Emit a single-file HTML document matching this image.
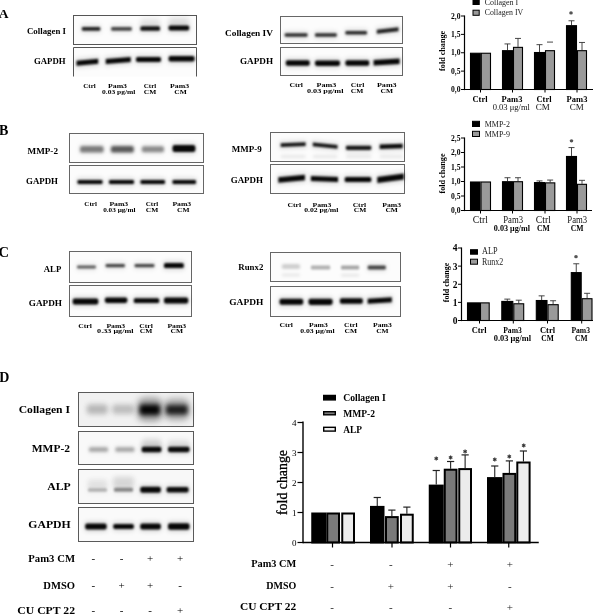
<!DOCTYPE html><html><head><meta charset="utf-8"><style>html,body{margin:0;padding:0;background:#fff;width:600px;height:615px;overflow:hidden}svg{display:block;will-change:transform}</style></head><body>
<svg width="600" height="615" viewBox="0 0 600 615" font-family="'Liberation Serif', serif">
<defs>
<filter id="b3" x="-50%" y="-200%" width="200%" height="500%"><feGaussianBlur stdDeviation="0.3"/></filter>
<filter id="b4" x="-50%" y="-200%" width="200%" height="500%"><feGaussianBlur stdDeviation="0.4"/></filter>
<filter id="b5" x="-50%" y="-200%" width="200%" height="500%"><feGaussianBlur stdDeviation="0.5"/></filter>
<filter id="b6" x="-50%" y="-200%" width="200%" height="500%"><feGaussianBlur stdDeviation="0.6"/></filter>
<filter id="b7" x="-50%" y="-200%" width="200%" height="500%"><feGaussianBlur stdDeviation="0.7"/></filter>
<filter id="b8" x="-50%" y="-200%" width="200%" height="500%"><feGaussianBlur stdDeviation="0.8"/></filter>
<filter id="b9" x="-50%" y="-200%" width="200%" height="500%"><feGaussianBlur stdDeviation="0.9"/></filter>
<filter id="b10" x="-50%" y="-200%" width="200%" height="500%"><feGaussianBlur stdDeviation="1.0"/></filter>
<filter id="b11" x="-50%" y="-200%" width="200%" height="500%"><feGaussianBlur stdDeviation="1.1"/></filter>
<filter id="b12" x="-50%" y="-200%" width="200%" height="500%"><feGaussianBlur stdDeviation="1.2"/></filter>
<filter id="b13" x="-50%" y="-200%" width="200%" height="500%"><feGaussianBlur stdDeviation="1.3"/></filter>
<filter id="b14" x="-50%" y="-200%" width="200%" height="500%"><feGaussianBlur stdDeviation="1.4"/></filter>
<filter id="b15" x="-50%" y="-200%" width="200%" height="500%"><feGaussianBlur stdDeviation="1.5"/></filter>
<filter id="b16" x="-50%" y="-200%" width="200%" height="500%"><feGaussianBlur stdDeviation="1.6"/></filter>
<filter id="b17" x="-50%" y="-200%" width="200%" height="500%"><feGaussianBlur stdDeviation="1.7"/></filter>
<filter id="b18" x="-50%" y="-200%" width="200%" height="500%"><feGaussianBlur stdDeviation="1.8"/></filter>
<filter id="b19" x="-50%" y="-200%" width="200%" height="500%"><feGaussianBlur stdDeviation="1.9"/></filter>
<filter id="b20" x="-50%" y="-200%" width="200%" height="500%"><feGaussianBlur stdDeviation="2.0"/></filter>
<filter id="b21" x="-50%" y="-200%" width="200%" height="500%"><feGaussianBlur stdDeviation="2.1"/></filter>
<filter id="b22" x="-50%" y="-200%" width="200%" height="500%"><feGaussianBlur stdDeviation="2.2"/></filter>
<filter id="b23" x="-50%" y="-200%" width="200%" height="500%"><feGaussianBlur stdDeviation="2.3"/></filter>
<filter id="b24" x="-50%" y="-200%" width="200%" height="500%"><feGaussianBlur stdDeviation="2.4"/></filter>
<filter id="b25" x="-50%" y="-200%" width="200%" height="500%"><feGaussianBlur stdDeviation="2.5"/></filter>
<filter id="b26" x="-50%" y="-200%" width="200%" height="500%"><feGaussianBlur stdDeviation="2.6"/></filter>
<filter id="b27" x="-50%" y="-200%" width="200%" height="500%"><feGaussianBlur stdDeviation="2.7"/></filter>
<filter id="b28" x="-50%" y="-200%" width="200%" height="500%"><feGaussianBlur stdDeviation="2.8"/></filter>
<filter id="b29" x="-50%" y="-200%" width="200%" height="500%"><feGaussianBlur stdDeviation="2.9"/></filter>
<filter id="b30" x="-50%" y="-200%" width="200%" height="500%"><feGaussianBlur stdDeviation="3.0"/></filter>
<filter id="b31" x="-50%" y="-200%" width="200%" height="500%"><feGaussianBlur stdDeviation="3.1"/></filter>
<filter id="b32" x="-50%" y="-200%" width="200%" height="500%"><feGaussianBlur stdDeviation="3.2"/></filter>
<filter id="b33" x="-50%" y="-200%" width="200%" height="500%"><feGaussianBlur stdDeviation="3.3"/></filter>
<filter id="b34" x="-50%" y="-200%" width="200%" height="500%"><feGaussianBlur stdDeviation="3.4"/></filter>
<filter id="b35" x="-50%" y="-200%" width="200%" height="500%"><feGaussianBlur stdDeviation="3.5"/></filter>
<filter id="b36" x="-50%" y="-200%" width="200%" height="500%"><feGaussianBlur stdDeviation="3.6"/></filter>
<filter id="b37" x="-50%" y="-200%" width="200%" height="500%"><feGaussianBlur stdDeviation="3.7"/></filter>
<filter id="b38" x="-50%" y="-200%" width="200%" height="500%"><feGaussianBlur stdDeviation="3.8"/></filter>
<filter id="b39" x="-50%" y="-200%" width="200%" height="500%"><feGaussianBlur stdDeviation="3.9"/></filter>
<filter id="b40" x="-50%" y="-200%" width="200%" height="500%"><feGaussianBlur stdDeviation="4.0"/></filter>
</defs>
<rect width="600" height="615" fill="#fff"/>
<text x="-1.20" y="17.50" font-size="13.5" font-weight="bold" text-anchor="start" fill="#000" >A</text>
<text x="-1.00" y="134.80" font-size="14" font-weight="bold" text-anchor="start" fill="#000" >B</text>
<text x="-1.50" y="256.50" font-size="14.5" font-weight="bold" text-anchor="start" fill="#000" >C</text>
<text x="-0.80" y="381.70" font-size="14" font-weight="bold" text-anchor="start" fill="#000" >D</text>
<rect x="73.5" y="15.5" width="123.0" height="29.0" fill="#fcfcfc" stroke="#555" stroke-width="1.0"/>
<text x="66.00" y="34.00" font-size="9" font-weight="bold" text-anchor="end" textLength="39.00" lengthAdjust="spacingAndGlyphs" fill="#000" >Collagen I</text>
<rect x="140.40" y="18.00" width="19.60" height="8.00" rx="2.67" fill="#000" fill-opacity="0.08" filter="url(#b25)"/>
<rect x="168.60" y="17.00" width="20.60" height="8.00" rx="2.67" fill="#000" fill-opacity="0.10" filter="url(#b25)"/>
<rect x="80.90" y="24.45" width="20.40" height="8.80" rx="2.93" fill="#000" fill-opacity="0.10" filter="url(#b20)"/>
<rect x="81.90" y="26.95" width="18.40" height="3.80" rx="1.27" fill="#000" fill-opacity="0.85" filter="url(#b10)"/>
<rect x="110.20" y="24.55" width="22.55" height="8.60" rx="2.87" fill="#000" fill-opacity="0.08" filter="url(#b20)"/>
<rect x="111.20" y="27.05" width="20.55" height="3.60" rx="1.20" fill="#000" fill-opacity="0.70" filter="url(#b10)"/>
<rect x="139.40" y="23.85" width="21.60" height="9.50" rx="3.17" fill="#000" fill-opacity="0.11" filter="url(#b20)"/>
<rect x="140.40" y="26.35" width="19.60" height="4.50" rx="1.50" fill="#000" fill-opacity="0.92" filter="url(#b10)"/>
<rect x="167.60" y="23.00" width="22.60" height="10.00" rx="3.33" fill="#000" fill-opacity="0.12" filter="url(#b20)"/>
<rect x="168.60" y="25.50" width="20.60" height="5.00" rx="1.67" fill="#000" fill-opacity="0.97" filter="url(#b10)"/>
<rect x="73.5" y="47.5" width="123.0" height="29.0" fill="#fcfcfc"/>
<path d="M73.5,76.5 V47.5 H196.5 V76.5" fill="none" stroke="#555" stroke-width="1.0"/>
<text x="65.60" y="63.75" font-size="8.5" font-weight="bold" text-anchor="end" textLength="31.60" lengthAdjust="spacingAndGlyphs" fill="#000" >GAPDH</text>
<polygon points="75.50,58.20 99.20,56.20 99.20,66.20 75.50,68.20" fill="#000" fill-opacity="0.12" filter="url(#b20)"/>
<polygon points="76.50,60.70 98.20,58.70 98.20,63.70 76.50,65.70" fill="#000" fill-opacity="0.97" filter="url(#b10)"/>
<polygon points="104.75,56.40 131.70,54.40 131.70,64.40 104.75,66.40" fill="#000" fill-opacity="0.12" filter="url(#b20)"/>
<polygon points="105.75,58.90 130.70,56.90 130.70,61.90 105.75,63.90" fill="#000" fill-opacity="0.97" filter="url(#b10)"/>
<rect x="135.00" y="54.40" width="27.00" height="10.00" rx="3.33" fill="#000" fill-opacity="0.12" filter="url(#b20)"/>
<rect x="136.00" y="56.90" width="25.00" height="5.00" rx="1.67" fill="#000" fill-opacity="0.97" filter="url(#b10)"/>
<rect x="167.60" y="53.50" width="28.00" height="10.50" rx="3.50" fill="#000" fill-opacity="0.12" filter="url(#b20)"/>
<rect x="168.60" y="56.00" width="26.00" height="5.50" rx="1.83" fill="#000" fill-opacity="0.97" filter="url(#b10)"/>
<text x="89.50" y="87.50" font-size="7" font-weight="bold" text-anchor="middle" textLength="12.50" lengthAdjust="spacingAndGlyphs" fill="#000" >Ctrl</text>
<text x="117.50" y="87.50" font-size="7" font-weight="bold" text-anchor="middle" textLength="19.00" lengthAdjust="spacingAndGlyphs" fill="#000" >Pam3</text>
<text x="150.00" y="87.50" font-size="7" font-weight="bold" text-anchor="middle" textLength="12.50" lengthAdjust="spacingAndGlyphs" fill="#000" >Ctrl</text>
<text x="179.60" y="87.50" font-size="7" font-weight="bold" text-anchor="middle" textLength="19.00" lengthAdjust="spacingAndGlyphs" fill="#000" >Pam3</text>
<text x="118.70" y="94.00" font-size="7" font-weight="bold" text-anchor="middle" textLength="33.40" lengthAdjust="spacingAndGlyphs" fill="#000" >0.03 pg/ml</text>
<text x="150.00" y="94.00" font-size="7" font-weight="bold" text-anchor="middle" textLength="12.50" lengthAdjust="spacingAndGlyphs" fill="#000" >CM</text>
<text x="180.50" y="94.00" font-size="7" font-weight="bold" text-anchor="middle" textLength="12.50" lengthAdjust="spacingAndGlyphs" fill="#000" >CM</text>
<rect x="280.5" y="16.5" width="122.0" height="27.0" fill="#fcfcfc" stroke="#666" stroke-width="1.0"/>
<text x="273.00" y="36.00" font-size="9" font-weight="bold" text-anchor="end" textLength="48.00" lengthAdjust="spacingAndGlyphs" fill="#000" >Collagen IV</text>
<rect x="283.75" y="30.65" width="24.75" height="8.50" rx="2.83" fill="#000" fill-opacity="0.10" filter="url(#b20)"/>
<rect x="284.75" y="33.15" width="22.75" height="3.50" rx="1.17" fill="#000" fill-opacity="0.80" filter="url(#b10)"/>
<rect x="314.00" y="30.65" width="23.75" height="8.50" rx="2.83" fill="#000" fill-opacity="0.10" filter="url(#b20)"/>
<rect x="315.00" y="33.15" width="21.75" height="3.50" rx="1.17" fill="#000" fill-opacity="0.80" filter="url(#b10)"/>
<rect x="344.40" y="28.50" width="23.60" height="8.50" rx="2.83" fill="#000" fill-opacity="0.10" filter="url(#b20)"/>
<rect x="345.40" y="31.00" width="21.60" height="3.50" rx="1.17" fill="#000" fill-opacity="0.82" filter="url(#b10)"/>
<polygon points="375.80,27.25 399.50,24.75 399.50,33.75 375.80,36.25" fill="#000" fill-opacity="0.10" filter="url(#b20)"/>
<polygon points="376.80,29.75 398.50,27.25 398.50,31.25 376.80,33.75" fill="#000" fill-opacity="0.85" filter="url(#b10)"/>
<rect x="280.5" y="47.5" width="122.0" height="28.0" fill="#fcfcfc" stroke="#666" stroke-width="1.0"/>
<text x="273.00" y="63.50" font-size="8.5" font-weight="bold" text-anchor="end" textLength="33.00" lengthAdjust="spacingAndGlyphs" fill="#000" >GAPDH</text>
<rect x="284.80" y="57.75" width="25.90" height="10.50" rx="3.50" fill="#000" fill-opacity="0.12" filter="url(#b20)"/>
<rect x="285.80" y="60.25" width="23.90" height="5.50" rx="1.83" fill="#000" fill-opacity="0.97" filter="url(#b10)"/>
<rect x="314.00" y="57.95" width="27.00" height="10.50" rx="3.50" fill="#000" fill-opacity="0.12" filter="url(#b20)"/>
<rect x="315.00" y="60.45" width="25.00" height="5.50" rx="1.83" fill="#000" fill-opacity="0.97" filter="url(#b10)"/>
<rect x="344.40" y="57.75" width="25.85" height="10.50" rx="3.50" fill="#000" fill-opacity="0.12" filter="url(#b20)"/>
<rect x="345.40" y="60.25" width="23.85" height="5.50" rx="1.83" fill="#000" fill-opacity="0.97" filter="url(#b10)"/>
<polygon points="372.60,57.50 400.60,56.00 400.60,66.50 372.60,68.00" fill="#000" fill-opacity="0.12" filter="url(#b20)"/>
<polygon points="373.60,60.00 399.60,58.50 399.60,64.00 373.60,65.50" fill="#000" fill-opacity="0.97" filter="url(#b10)"/>
<text x="296.20" y="87.00" font-size="6.5" font-weight="bold" text-anchor="middle" textLength="13.50" lengthAdjust="spacingAndGlyphs" fill="#000" >Ctrl</text>
<text x="326.40" y="87.00" font-size="6.5" font-weight="bold" text-anchor="middle" textLength="19.75" lengthAdjust="spacingAndGlyphs" fill="#000" >Pam3</text>
<text x="357.60" y="87.00" font-size="6.5" font-weight="bold" text-anchor="middle" textLength="13.50" lengthAdjust="spacingAndGlyphs" fill="#000" >Ctrl</text>
<text x="386.80" y="87.00" font-size="6.5" font-weight="bold" text-anchor="middle" textLength="19.75" lengthAdjust="spacingAndGlyphs" fill="#000" >Pam3</text>
<text x="325.20" y="92.80" font-size="6.5" font-weight="bold" text-anchor="middle" textLength="36.50" lengthAdjust="spacingAndGlyphs" fill="#000" >0.03 pg/ml</text>
<text x="357.00" y="92.80" font-size="6.5" font-weight="bold" text-anchor="middle" textLength="12.50" lengthAdjust="spacingAndGlyphs" fill="#000" >CM</text>
<text x="386.80" y="92.80" font-size="6.5" font-weight="bold" text-anchor="middle" textLength="12.50" lengthAdjust="spacingAndGlyphs" fill="#000" >CM</text>
<rect x="69.5" y="133.5" width="134.0" height="29.0" fill="#fcfcfc" stroke="#666" stroke-width="1.0"/>
<text x="58.00" y="154.00" font-size="8.5" font-weight="bold" text-anchor="end" textLength="30.50" lengthAdjust="spacingAndGlyphs" fill="#000" >MMP-2</text>
<rect x="79.00" y="143.55" width="25.60" height="11.50" rx="3.83" fill="#000" fill-opacity="0.06" filter="url(#b20)"/>
<rect x="80.00" y="146.05" width="23.60" height="6.50" rx="2.17" fill="#000" fill-opacity="0.48" filter="url(#b16)"/>
<rect x="109.90" y="143.55" width="24.90" height="11.50" rx="3.83" fill="#000" fill-opacity="0.07" filter="url(#b20)"/>
<rect x="110.90" y="146.05" width="22.90" height="6.50" rx="2.17" fill="#000" fill-opacity="0.62" filter="url(#b16)"/>
<rect x="140.80" y="143.80" width="24.20" height="11.00" rx="3.67" fill="#000" fill-opacity="0.05" filter="url(#b20)"/>
<rect x="141.80" y="146.30" width="22.20" height="6.00" rx="2.00" fill="#000" fill-opacity="0.42" filter="url(#b16)"/>
<rect x="171.50" y="142.60" width="24.90" height="12.00" rx="4.00" fill="#000" fill-opacity="0.12" filter="url(#b20)"/>
<rect x="172.50" y="145.10" width="22.90" height="7.00" rx="2.33" fill="#000" fill-opacity="0.97" filter="url(#b13)"/>
<rect x="69.5" y="165.5" width="134.0" height="28.0" fill="#fcfcfc" stroke="#666" stroke-width="1.0"/>
<text x="58.00" y="184.00" font-size="8.5" font-weight="bold" text-anchor="end" textLength="32.00" lengthAdjust="spacingAndGlyphs" fill="#000" >GAPDH</text>
<rect x="76.50" y="177.50" width="27.00" height="9.00" rx="3.00" fill="#000" fill-opacity="0.12" filter="url(#b20)"/>
<rect x="77.50" y="180.00" width="25.00" height="4.00" rx="1.33" fill="#000" fill-opacity="0.97" filter="url(#b8)"/>
<rect x="108.00" y="177.50" width="27.00" height="9.00" rx="3.00" fill="#000" fill-opacity="0.12" filter="url(#b20)"/>
<rect x="109.00" y="180.00" width="25.00" height="4.00" rx="1.33" fill="#000" fill-opacity="0.97" filter="url(#b8)"/>
<rect x="139.50" y="177.50" width="26.50" height="9.00" rx="3.00" fill="#000" fill-opacity="0.12" filter="url(#b20)"/>
<rect x="140.50" y="180.00" width="24.50" height="4.00" rx="1.33" fill="#000" fill-opacity="0.97" filter="url(#b8)"/>
<rect x="171.50" y="177.50" width="25.50" height="9.00" rx="3.00" fill="#000" fill-opacity="0.12" filter="url(#b20)"/>
<rect x="172.50" y="180.00" width="23.50" height="4.00" rx="1.33" fill="#000" fill-opacity="0.97" filter="url(#b8)"/>
<text x="90.60" y="205.80" font-size="7" font-weight="bold" text-anchor="middle" textLength="12.50" lengthAdjust="spacingAndGlyphs" fill="#000" >Ctrl</text>
<text x="118.75" y="205.80" font-size="7" font-weight="bold" text-anchor="middle" textLength="18.75" lengthAdjust="spacingAndGlyphs" fill="#000" >Pam3</text>
<text x="152.00" y="205.80" font-size="7" font-weight="bold" text-anchor="middle" textLength="12.50" lengthAdjust="spacingAndGlyphs" fill="#000" >Ctrl</text>
<text x="181.80" y="205.80" font-size="7" font-weight="bold" text-anchor="middle" textLength="18.75" lengthAdjust="spacingAndGlyphs" fill="#000" >Pam3</text>
<text x="119.30" y="211.70" font-size="7" font-weight="bold" text-anchor="middle" textLength="32.30" lengthAdjust="spacingAndGlyphs" fill="#000" >0.03 μg/ml</text>
<text x="152.00" y="211.70" font-size="7" font-weight="bold" text-anchor="middle" textLength="12.50" lengthAdjust="spacingAndGlyphs" fill="#000" >CM</text>
<text x="183.30" y="211.70" font-size="7" font-weight="bold" text-anchor="middle" textLength="12.50" lengthAdjust="spacingAndGlyphs" fill="#000" >CM</text>
<rect x="270.5" y="132.5" width="134.0" height="29.0" fill="#fcfcfc" stroke="#666" stroke-width="1.0"/>
<text x="261.70" y="151.50" font-size="8.5" font-weight="bold" text-anchor="end" textLength="30.00" lengthAdjust="spacingAndGlyphs" fill="#000" >MMP-9</text>
<polygon points="279.70,140.70 306.60,139.70 306.60,148.50 279.70,149.50" fill="#000" fill-opacity="0.11" filter="url(#b20)"/>
<polygon points="280.70,143.20 305.60,142.20 305.60,146.00 280.70,147.00" fill="#000" fill-opacity="0.90" filter="url(#b10)"/>
<polygon points="311.80,140.00 338.50,142.40 338.50,151.20 311.80,148.80" fill="#000" fill-opacity="0.11" filter="url(#b20)"/>
<polygon points="312.80,142.50 337.50,144.90 337.50,148.70 312.80,146.30" fill="#000" fill-opacity="0.90" filter="url(#b10)"/>
<rect x="344.90" y="143.20" width="27.40" height="9.20" rx="3.07" fill="#000" fill-opacity="0.11" filter="url(#b20)"/>
<rect x="345.90" y="145.70" width="25.40" height="4.20" rx="1.40" fill="#000" fill-opacity="0.90" filter="url(#b10)"/>
<polygon points="378.70,142.05 403.70,141.25 403.70,150.75 378.70,151.55" fill="#000" fill-opacity="0.11" filter="url(#b20)"/>
<polygon points="379.70,144.55 402.70,143.75 402.70,148.25 379.70,149.05" fill="#000" fill-opacity="0.95" filter="url(#b10)"/>
<rect x="280.70" y="154.75" width="24.90" height="3.50" rx="1.17" fill="#000" fill-opacity="0.07" filter="url(#b15)"/>
<rect x="312.80" y="154.75" width="24.70" height="3.50" rx="1.17" fill="#000" fill-opacity="0.07" filter="url(#b15)"/>
<rect x="345.90" y="154.75" width="25.40" height="3.50" rx="1.17" fill="#000" fill-opacity="0.07" filter="url(#b15)"/>
<rect x="379.70" y="154.75" width="23.00" height="3.50" rx="1.17" fill="#000" fill-opacity="0.07" filter="url(#b15)"/>
<rect x="270.5" y="164.5" width="134.0" height="29.0" fill="#fcfcfc" stroke="#666" stroke-width="1.0"/>
<text x="263.00" y="182.50" font-size="8.5" font-weight="bold" text-anchor="end" textLength="32.30" lengthAdjust="spacingAndGlyphs" fill="#000" >GAPDH</text>
<polygon points="277.30,174.80 305.90,172.30 305.90,182.80 277.30,185.30" fill="#000" fill-opacity="0.12" filter="url(#b20)"/>
<polygon points="278.30,177.30 304.90,174.80 304.90,180.30 278.30,182.80" fill="#000" fill-opacity="0.97" filter="url(#b10)"/>
<polygon points="309.90,173.40 339.00,174.40 339.00,184.40 309.90,183.40" fill="#000" fill-opacity="0.12" filter="url(#b20)"/>
<polygon points="310.90,175.90 338.00,176.90 338.00,181.90 310.90,180.90" fill="#000" fill-opacity="0.97" filter="url(#b10)"/>
<rect x="343.70" y="174.60" width="28.60" height="10.00" rx="3.33" fill="#000" fill-opacity="0.12" filter="url(#b20)"/>
<rect x="344.70" y="177.10" width="26.60" height="5.00" rx="1.67" fill="#000" fill-opacity="0.97" filter="url(#b10)"/>
<polygon points="376.30,174.45 404.90,170.95 404.90,181.95 376.30,185.45" fill="#000" fill-opacity="0.12" filter="url(#b20)"/>
<polygon points="377.30,176.95 403.90,173.45 403.90,179.45 377.30,182.95" fill="#000" fill-opacity="0.97" filter="url(#b10)"/>
<text x="294.30" y="206.50" font-size="7" font-weight="bold" text-anchor="middle" textLength="13.50" lengthAdjust="spacingAndGlyphs" fill="#000" >Ctrl</text>
<text x="321.90" y="206.50" font-size="7" font-weight="bold" text-anchor="middle" textLength="18.75" lengthAdjust="spacingAndGlyphs" fill="#000" >Pam3</text>
<text x="359.40" y="206.50" font-size="7" font-weight="bold" text-anchor="middle" textLength="13.50" lengthAdjust="spacingAndGlyphs" fill="#000" >Ctrl</text>
<text x="391.70" y="206.50" font-size="7" font-weight="bold" text-anchor="middle" textLength="18.75" lengthAdjust="spacingAndGlyphs" fill="#000" >Pam3</text>
<text x="321.30" y="212.00" font-size="7" font-weight="bold" text-anchor="middle" textLength="34.30" lengthAdjust="spacingAndGlyphs" fill="#000" >0.02 pg/ml</text>
<text x="360.00" y="212.00" font-size="7" font-weight="bold" text-anchor="middle" textLength="12.50" lengthAdjust="spacingAndGlyphs" fill="#000" >CM</text>
<text x="391.70" y="212.00" font-size="7" font-weight="bold" text-anchor="middle" textLength="12.50" lengthAdjust="spacingAndGlyphs" fill="#000" >CM</text>
<rect x="69.5" y="251.5" width="122.0" height="31.0" fill="#fcfcfc" stroke="#666" stroke-width="1.0"/>
<text x="61.25" y="271.50" font-size="8.5" font-weight="bold" text-anchor="end" textLength="17.50" lengthAdjust="spacingAndGlyphs" fill="#000" >ALP</text>
<rect x="76.00" y="262.90" width="20.90" height="8.20" rx="2.73" fill="#000" fill-opacity="0.07" filter="url(#b20)"/>
<rect x="77.00" y="265.40" width="18.90" height="3.20" rx="1.07" fill="#000" fill-opacity="0.60" filter="url(#b10)"/>
<rect x="104.60" y="261.50" width="21.30" height="8.20" rx="2.73" fill="#000" fill-opacity="0.08" filter="url(#b20)"/>
<rect x="105.60" y="264.00" width="19.30" height="3.20" rx="1.07" fill="#000" fill-opacity="0.70" filter="url(#b10)"/>
<rect x="133.60" y="261.50" width="21.80" height="8.20" rx="2.73" fill="#000" fill-opacity="0.08" filter="url(#b20)"/>
<rect x="134.60" y="264.00" width="19.80" height="3.20" rx="1.07" fill="#000" fill-opacity="0.70" filter="url(#b10)"/>
<rect x="163.00" y="260.60" width="21.80" height="10.00" rx="3.33" fill="#000" fill-opacity="0.12" filter="url(#b20)"/>
<rect x="164.00" y="263.10" width="19.80" height="5.00" rx="1.67" fill="#000" fill-opacity="0.97" filter="url(#b10)"/>
<rect x="69.5" y="285.5" width="122.0" height="31.0" fill="#fcfcfc" stroke="#666" stroke-width="1.0"/>
<text x="62.00" y="305.50" font-size="8.5" font-weight="bold" text-anchor="end" textLength="33.25" lengthAdjust="spacingAndGlyphs" fill="#000" >GAPDH</text>
<rect x="71.70" y="296.10" width="27.60" height="11.00" rx="3.67" fill="#000" fill-opacity="0.12" filter="url(#b20)"/>
<rect x="72.70" y="298.60" width="25.60" height="6.00" rx="2.00" fill="#000" fill-opacity="0.97" filter="url(#b10)"/>
<rect x="103.90" y="294.95" width="24.40" height="10.50" rx="3.50" fill="#000" fill-opacity="0.12" filter="url(#b20)"/>
<rect x="104.90" y="297.45" width="22.40" height="5.50" rx="1.83" fill="#000" fill-opacity="0.97" filter="url(#b10)"/>
<rect x="132.80" y="295.70" width="27.40" height="9.80" rx="3.27" fill="#000" fill-opacity="0.12" filter="url(#b20)"/>
<rect x="133.80" y="298.20" width="25.40" height="4.80" rx="1.60" fill="#000" fill-opacity="0.97" filter="url(#b10)"/>
<rect x="163.00" y="295.10" width="26.20" height="11.00" rx="3.67" fill="#000" fill-opacity="0.12" filter="url(#b20)"/>
<rect x="164.00" y="297.60" width="24.20" height="6.00" rx="2.00" fill="#000" fill-opacity="0.97" filter="url(#b10)"/>
<text x="85.10" y="327.60" font-size="7" font-weight="bold" text-anchor="middle" textLength="13.60" lengthAdjust="spacingAndGlyphs" fill="#000" >Ctrl</text>
<text x="115.80" y="327.60" font-size="7" font-weight="bold" text-anchor="middle" textLength="18.75" lengthAdjust="spacingAndGlyphs" fill="#000" >Pam3</text>
<text x="146.00" y="327.60" font-size="7" font-weight="bold" text-anchor="middle" textLength="13.60" lengthAdjust="spacingAndGlyphs" fill="#000" >Ctrl</text>
<text x="176.80" y="327.60" font-size="7" font-weight="bold" text-anchor="middle" textLength="18.75" lengthAdjust="spacingAndGlyphs" fill="#000" >Pam3</text>
<text x="115.30" y="333.30" font-size="7" font-weight="bold" text-anchor="middle" textLength="36.40" lengthAdjust="spacingAndGlyphs" fill="#000" >0.33 μg/ml</text>
<text x="146.00" y="333.30" font-size="7" font-weight="bold" text-anchor="middle" textLength="12.50" lengthAdjust="spacingAndGlyphs" fill="#000" >CM</text>
<text x="176.80" y="333.30" font-size="7" font-weight="bold" text-anchor="middle" textLength="12.50" lengthAdjust="spacingAndGlyphs" fill="#000" >CM</text>
<rect x="270.5" y="252.5" width="130.0" height="29.0" fill="#fcfcfc" stroke="#666" stroke-width="1.0"/>
<text x="263.30" y="270.00" font-size="8" font-weight="bold" text-anchor="end" textLength="25.00" lengthAdjust="spacingAndGlyphs" fill="#000" >Runx2</text>
<rect x="281.90" y="264.25" width="18.10" height="4.50" rx="1.50" fill="#000" fill-opacity="0.20" filter="url(#b15)"/>
<rect x="310.90" y="265.60" width="19.30" height="3.80" rx="1.27" fill="#000" fill-opacity="0.30" filter="url(#b13)"/>
<rect x="341.00" y="265.60" width="18.20" height="3.80" rx="1.27" fill="#000" fill-opacity="0.35" filter="url(#b13)"/>
<rect x="366.70" y="263.00" width="20.10" height="9.00" rx="3.00" fill="#000" fill-opacity="0.08" filter="url(#b20)"/>
<rect x="367.70" y="265.50" width="18.10" height="4.00" rx="1.33" fill="#000" fill-opacity="0.70" filter="url(#b12)"/>
<rect x="281.90" y="273.50" width="18.10" height="3.00" rx="1.00" fill="#000" fill-opacity="0.08" filter="url(#b15)"/>
<rect x="341.00" y="273.70" width="18.20" height="3.00" rx="1.00" fill="#000" fill-opacity="0.08" filter="url(#b15)"/>
<rect x="270.5" y="286.5" width="130.0" height="30.0" fill="#fcfcfc" stroke="#666" stroke-width="1.0"/>
<text x="263.30" y="304.50" font-size="8.5" font-weight="bold" text-anchor="end" textLength="34.00" lengthAdjust="spacingAndGlyphs" fill="#000" >GAPDH</text>
<rect x="278.50" y="296.30" width="25.70" height="11.00" rx="3.67" fill="#000" fill-opacity="0.12" filter="url(#b20)"/>
<rect x="279.50" y="298.80" width="23.70" height="6.00" rx="2.00" fill="#000" fill-opacity="0.97" filter="url(#b10)"/>
<rect x="307.50" y="296.20" width="26.10" height="11.20" rx="3.73" fill="#000" fill-opacity="0.12" filter="url(#b20)"/>
<rect x="308.50" y="298.70" width="24.10" height="6.20" rx="2.07" fill="#000" fill-opacity="0.97" filter="url(#b10)"/>
<rect x="338.90" y="295.75" width="24.90" height="10.50" rx="3.50" fill="#000" fill-opacity="0.12" filter="url(#b20)"/>
<rect x="339.90" y="298.25" width="22.90" height="5.50" rx="1.83" fill="#000" fill-opacity="0.97" filter="url(#b10)"/>
<polygon points="366.70,296.35 392.80,294.85 392.80,304.65 366.70,306.15" fill="#000" fill-opacity="0.12" filter="url(#b20)"/>
<polygon points="367.70,298.85 391.80,297.35 391.80,302.15 367.70,303.65" fill="#000" fill-opacity="0.97" filter="url(#b10)"/>
<text x="286.20" y="327.00" font-size="7" font-weight="bold" text-anchor="middle" textLength="13.50" lengthAdjust="spacingAndGlyphs" fill="#000" >Ctrl</text>
<text x="318.40" y="327.00" font-size="7" font-weight="bold" text-anchor="middle" textLength="18.75" lengthAdjust="spacingAndGlyphs" fill="#000" >Pam3</text>
<text x="350.80" y="327.00" font-size="7" font-weight="bold" text-anchor="middle" textLength="13.50" lengthAdjust="spacingAndGlyphs" fill="#000" >Ctrl</text>
<text x="382.40" y="327.00" font-size="7" font-weight="bold" text-anchor="middle" textLength="18.75" lengthAdjust="spacingAndGlyphs" fill="#000" >Pam3</text>
<text x="317.40" y="332.80" font-size="7" font-weight="bold" text-anchor="middle" textLength="34.40" lengthAdjust="spacingAndGlyphs" fill="#000" >0.03 μg/ml</text>
<text x="350.80" y="332.80" font-size="7" font-weight="bold" text-anchor="middle" textLength="12.50" lengthAdjust="spacingAndGlyphs" fill="#000" >CM</text>
<text x="382.40" y="332.80" font-size="7" font-weight="bold" text-anchor="middle" textLength="12.50" lengthAdjust="spacingAndGlyphs" fill="#000" >CM</text>
<rect x="470.50" y="53.25" width="9.80" height="36.25" fill="#000" stroke="#000" stroke-width="1.1" />
<rect x="481.30" y="53.25" width="9.20" height="36.25" fill="#9a9a9a" stroke="#000" stroke-width="1.1" />
<line x1="507.50" y1="50.18" x2="507.50" y2="43.93" stroke="#333" stroke-width="0.9"/>
<line x1="504.50" y1="43.93" x2="510.50" y2="43.93" stroke="#333" stroke-width="0.9"/>
<rect x="502.50" y="50.68" width="10.00" height="38.82" fill="#000" stroke="#000" stroke-width="1.1" />
<line x1="518.00" y1="46.87" x2="518.00" y2="38.42" stroke="#333" stroke-width="0.9"/>
<line x1="515.00" y1="38.42" x2="521.00" y2="38.42" stroke="#333" stroke-width="0.9"/>
<rect x="513.50" y="47.37" width="9.00" height="42.13" fill="#9a9a9a" stroke="#000" stroke-width="1.1" />
<line x1="539.50" y1="52.02" x2="539.50" y2="44.66" stroke="#333" stroke-width="0.9"/>
<line x1="536.50" y1="44.66" x2="542.50" y2="44.66" stroke="#333" stroke-width="0.9"/>
<rect x="534.50" y="52.52" width="10.00" height="36.98" fill="#000" stroke="#000" stroke-width="1.1" />
<line x1="547.00" y1="42.09" x2="553.00" y2="42.09" stroke="#333" stroke-width="0.9"/>
<rect x="545.50" y="50.68" width="9.00" height="38.82" fill="#9a9a9a" stroke="#000" stroke-width="1.1" />
<line x1="571.50" y1="25.19" x2="571.50" y2="20.78" stroke="#333" stroke-width="0.9"/>
<line x1="568.50" y1="20.78" x2="574.50" y2="20.78" stroke="#333" stroke-width="0.9"/>
<rect x="566.50" y="25.69" width="10.00" height="63.81" fill="#000" stroke="#000" stroke-width="1.1" />
<line x1="582.00" y1="50.18" x2="582.00" y2="42.46" stroke="#333" stroke-width="0.9"/>
<line x1="579.00" y1="42.46" x2="585.00" y2="42.46" stroke="#333" stroke-width="0.9"/>
<rect x="577.50" y="50.68" width="9.00" height="38.82" fill="#9a9a9a" stroke="#000" stroke-width="1.1" />
<line x1="464.50" y1="15.50" x2="464.50" y2="90.10" stroke="#000" stroke-width="1.2"/>
<line x1="463.90" y1="89.50" x2="593.00" y2="89.50" stroke="#000" stroke-width="1.2"/>
<line x1="461.00" y1="89.50" x2="464.50" y2="89.50" stroke="#000" stroke-width="1"/>
<text x="460.50" y="92.20" font-size="7.5" font-weight="bold" text-anchor="end" textLength="9.50" lengthAdjust="spacingAndGlyphs" fill="#000" >0,0</text>
<line x1="461.00" y1="71.12" x2="464.50" y2="71.12" stroke="#000" stroke-width="1"/>
<text x="460.50" y="73.83" font-size="7.5" font-weight="bold" text-anchor="end" textLength="9.50" lengthAdjust="spacingAndGlyphs" fill="#000" >0,5</text>
<line x1="461.00" y1="52.75" x2="464.50" y2="52.75" stroke="#000" stroke-width="1"/>
<text x="460.50" y="55.45" font-size="7.5" font-weight="bold" text-anchor="end" textLength="9.50" lengthAdjust="spacingAndGlyphs" fill="#000" >1,0</text>
<line x1="461.00" y1="34.38" x2="464.50" y2="34.38" stroke="#000" stroke-width="1"/>
<text x="460.50" y="37.08" font-size="7.5" font-weight="bold" text-anchor="end" textLength="9.50" lengthAdjust="spacingAndGlyphs" fill="#000" >1,5</text>
<line x1="461.00" y1="16.00" x2="464.50" y2="16.00" stroke="#000" stroke-width="1"/>
<text x="460.50" y="18.70" font-size="7.5" font-weight="bold" text-anchor="end" textLength="9.50" lengthAdjust="spacingAndGlyphs" fill="#000" >2,0</text>
<line x1="480.50" y1="89.50" x2="480.50" y2="92.50" stroke="#000" stroke-width="1"/>
<line x1="512.50" y1="89.50" x2="512.50" y2="92.50" stroke="#000" stroke-width="1"/>
<line x1="545.00" y1="89.50" x2="545.00" y2="92.50" stroke="#000" stroke-width="1"/>
<line x1="577.00" y1="89.50" x2="577.00" y2="92.50" stroke="#000" stroke-width="1"/>
<ellipse cx="571" cy="12.9" rx="1.8" ry="1.6" fill="#555" filter="url(#b5)"/>
<rect x="473.00" y="-0.50" width="6.20" height="5.00" fill="#000" stroke="#000" stroke-width="1" />
<text x="484.70" y="5.00" font-size="8.5" font-weight="normal" text-anchor="start" textLength="33.60" lengthAdjust="spacingAndGlyphs" fill="#222" >Collagen I</text>
<rect x="473.00" y="10.20" width="6.20" height="5.10" fill="#9a9a9a" stroke="#000" stroke-width="1" />
<text x="484.70" y="15.00" font-size="8.5" font-weight="normal" text-anchor="start" textLength="38.60" lengthAdjust="spacingAndGlyphs" fill="#222" >Collagen IV</text>
<text x="0" y="0" font-size="8" font-weight="bold" text-anchor="middle" textLength="40" lengthAdjust="spacingAndGlyphs" transform="translate(444.8,50.9) rotate(-90)">fold change</text>
<text x="480.00" y="101.50" font-size="8.5" font-weight="bold" text-anchor="middle" fill="#000" >Ctrl</text>
<text x="512.00" y="101.50" font-size="8.5" font-weight="bold" text-anchor="middle" fill="#000" >Pam3</text>
<text x="544.00" y="101.50" font-size="8.5" font-weight="bold" text-anchor="middle" fill="#000" >Ctrl</text>
<text x="577.00" y="101.50" font-size="8.5" font-weight="bold" text-anchor="middle" fill="#000" >Pam3</text>
<text x="511.30" y="110.00" font-size="8.5" font-weight="normal" text-anchor="middle" textLength="37.30" lengthAdjust="spacingAndGlyphs" fill="#111" >0.03 μg/ml</text>
<text x="542.80" y="110.00" font-size="8.5" font-weight="normal" text-anchor="middle" textLength="14.00" lengthAdjust="spacingAndGlyphs" fill="#111" >CM</text>
<text x="576.70" y="110.00" font-size="8.5" font-weight="normal" text-anchor="middle" textLength="14.00" lengthAdjust="spacingAndGlyphs" fill="#111" >CM</text>
<rect x="470.50" y="182.00" width="9.50" height="28.50" fill="#000" stroke="#000" stroke-width="1.1" />
<rect x="481.00" y="182.00" width="9.50" height="28.50" fill="#9a9a9a" stroke="#000" stroke-width="1.1" />
<line x1="507.50" y1="181.21" x2="507.50" y2="177.73" stroke="#333" stroke-width="0.9"/>
<line x1="504.50" y1="177.73" x2="510.50" y2="177.73" stroke="#333" stroke-width="0.9"/>
<rect x="502.50" y="181.71" width="10.00" height="28.79" fill="#000" stroke="#000" stroke-width="1.1" />
<line x1="518.00" y1="181.21" x2="518.00" y2="177.73" stroke="#333" stroke-width="0.9"/>
<line x1="515.00" y1="177.73" x2="521.00" y2="177.73" stroke="#333" stroke-width="0.9"/>
<rect x="513.50" y="181.71" width="9.00" height="28.79" fill="#9a9a9a" stroke="#000" stroke-width="1.1" />
<line x1="539.50" y1="182.08" x2="539.50" y2="180.92" stroke="#333" stroke-width="0.9"/>
<line x1="536.50" y1="180.92" x2="542.50" y2="180.92" stroke="#333" stroke-width="0.9"/>
<rect x="534.50" y="182.58" width="10.00" height="27.92" fill="#000" stroke="#000" stroke-width="1.1" />
<line x1="550.15" y1="182.37" x2="550.15" y2="180.05" stroke="#333" stroke-width="0.9"/>
<line x1="547.15" y1="180.05" x2="553.15" y2="180.05" stroke="#333" stroke-width="0.9"/>
<rect x="545.50" y="182.87" width="9.30" height="27.63" fill="#9a9a9a" stroke="#000" stroke-width="1.1" />
<line x1="571.50" y1="155.98" x2="571.50" y2="147.57" stroke="#333" stroke-width="0.9"/>
<line x1="568.50" y1="147.57" x2="574.50" y2="147.57" stroke="#333" stroke-width="0.9"/>
<rect x="566.50" y="156.48" width="10.00" height="54.02" fill="#000" stroke="#000" stroke-width="1.1" />
<line x1="582.00" y1="183.82" x2="582.00" y2="180.34" stroke="#333" stroke-width="0.9"/>
<line x1="579.00" y1="180.34" x2="585.00" y2="180.34" stroke="#333" stroke-width="0.9"/>
<rect x="577.50" y="184.32" width="9.00" height="26.18" fill="#9a9a9a" stroke="#000" stroke-width="1.1" />
<line x1="464.50" y1="137.50" x2="464.50" y2="211.10" stroke="#000" stroke-width="1.2"/>
<line x1="463.90" y1="210.50" x2="592.00" y2="210.50" stroke="#000" stroke-width="1.2"/>
<line x1="461.00" y1="210.50" x2="464.50" y2="210.50" stroke="#000" stroke-width="1"/>
<text x="460.50" y="213.20" font-size="7.5" font-weight="bold" text-anchor="end" textLength="9.50" lengthAdjust="spacingAndGlyphs" fill="#000" >0,0</text>
<line x1="461.00" y1="196.00" x2="464.50" y2="196.00" stroke="#000" stroke-width="1"/>
<text x="460.50" y="198.70" font-size="7.5" font-weight="bold" text-anchor="end" textLength="9.50" lengthAdjust="spacingAndGlyphs" fill="#000" >0,5</text>
<line x1="461.00" y1="181.50" x2="464.50" y2="181.50" stroke="#000" stroke-width="1"/>
<text x="460.50" y="184.20" font-size="7.5" font-weight="bold" text-anchor="end" textLength="9.50" lengthAdjust="spacingAndGlyphs" fill="#000" >1,0</text>
<line x1="461.00" y1="167.00" x2="464.50" y2="167.00" stroke="#000" stroke-width="1"/>
<text x="460.50" y="169.70" font-size="7.5" font-weight="bold" text-anchor="end" textLength="9.50" lengthAdjust="spacingAndGlyphs" fill="#000" >1,5</text>
<line x1="461.00" y1="152.50" x2="464.50" y2="152.50" stroke="#000" stroke-width="1"/>
<text x="460.50" y="155.20" font-size="7.5" font-weight="bold" text-anchor="end" textLength="9.50" lengthAdjust="spacingAndGlyphs" fill="#000" >2,0</text>
<line x1="461.00" y1="138.00" x2="464.50" y2="138.00" stroke="#000" stroke-width="1"/>
<text x="460.50" y="140.70" font-size="7.5" font-weight="bold" text-anchor="end" textLength="9.50" lengthAdjust="spacingAndGlyphs" fill="#000" >2,5</text>
<line x1="480.50" y1="210.50" x2="480.50" y2="213.50" stroke="#000" stroke-width="1"/>
<line x1="512.50" y1="210.50" x2="512.50" y2="213.50" stroke="#000" stroke-width="1"/>
<line x1="545.00" y1="210.50" x2="545.00" y2="213.50" stroke="#000" stroke-width="1"/>
<line x1="577.00" y1="210.50" x2="577.00" y2="213.50" stroke="#000" stroke-width="1"/>
<ellipse cx="571.5" cy="140.8" rx="1.8" ry="1.6" fill="#555" filter="url(#b5)"/>
<rect x="472.50" y="121.30" width="7.00" height="5.20" fill="#000" stroke="#000" stroke-width="1" />
<text x="484.70" y="127.00" font-size="8.5" font-weight="normal" text-anchor="start" textLength="25.30" lengthAdjust="spacingAndGlyphs" fill="#222" >MMP-2</text>
<rect x="472.50" y="131.30" width="7.00" height="5.20" fill="#9a9a9a" stroke="#000" stroke-width="1" />
<text x="484.70" y="136.70" font-size="8.5" font-weight="normal" text-anchor="start" textLength="25.30" lengthAdjust="spacingAndGlyphs" fill="#222" >MMP-9</text>
<text x="0" y="0" font-size="8" font-weight="bold" text-anchor="middle" textLength="40" lengthAdjust="spacingAndGlyphs" transform="translate(445.3,173.5) rotate(-90)">fold change</text>
<text x="480.40" y="222.50" font-size="9.5" font-weight="normal" text-anchor="middle" textLength="15.20" lengthAdjust="spacingAndGlyphs" fill="#111" >Ctrl</text>
<text x="513.10" y="222.50" font-size="9.5" font-weight="normal" text-anchor="middle" textLength="19.80" lengthAdjust="spacingAndGlyphs" fill="#111" >Pam3</text>
<text x="543.40" y="222.50" font-size="9.5" font-weight="normal" text-anchor="middle" textLength="15.20" lengthAdjust="spacingAndGlyphs" fill="#111" >Ctrl</text>
<text x="577.20" y="222.50" font-size="9.5" font-weight="normal" text-anchor="middle" textLength="19.80" lengthAdjust="spacingAndGlyphs" fill="#111" >Pam3</text>
<text x="511.90" y="230.70" font-size="7.5" font-weight="bold" text-anchor="middle" textLength="36.20" lengthAdjust="spacingAndGlyphs" fill="#000" >0.03 μg/ml</text>
<text x="543.40" y="230.70" font-size="7.5" font-weight="bold" text-anchor="middle" textLength="12.80" lengthAdjust="spacingAndGlyphs" fill="#000" >CM</text>
<text x="577.20" y="230.70" font-size="7.5" font-weight="bold" text-anchor="middle" textLength="12.80" lengthAdjust="spacingAndGlyphs" fill="#000" >CM</text>
<rect x="467.50" y="302.88" width="12.00" height="17.62" fill="#000" stroke="#000" stroke-width="1.1" />
<rect x="480.50" y="302.88" width="8.70" height="17.62" fill="#9a9a9a" stroke="#000" stroke-width="1.1" />
<line x1="507.30" y1="300.93" x2="507.30" y2="299.11" stroke="#333" stroke-width="0.9"/>
<line x1="504.30" y1="299.11" x2="510.30" y2="299.11" stroke="#333" stroke-width="0.9"/>
<rect x="501.80" y="301.43" width="11.00" height="19.07" fill="#000" stroke="#000" stroke-width="1.1" />
<line x1="518.75" y1="303.28" x2="518.75" y2="300.20" stroke="#333" stroke-width="0.9"/>
<line x1="515.75" y1="300.20" x2="521.75" y2="300.20" stroke="#333" stroke-width="0.9"/>
<rect x="513.80" y="303.78" width="9.90" height="16.72" fill="#9a9a9a" stroke="#000" stroke-width="1.1" />
<line x1="541.65" y1="300.02" x2="541.65" y2="295.85" stroke="#333" stroke-width="0.9"/>
<line x1="538.65" y1="295.85" x2="544.65" y2="295.85" stroke="#333" stroke-width="0.9"/>
<rect x="536.30" y="300.52" width="10.70" height="19.98" fill="#000" stroke="#000" stroke-width="1.1" />
<line x1="553.10" y1="304.19" x2="553.10" y2="300.74" stroke="#333" stroke-width="0.9"/>
<line x1="550.10" y1="300.74" x2="556.10" y2="300.74" stroke="#333" stroke-width="0.9"/>
<rect x="548.00" y="304.69" width="10.20" height="15.81" fill="#9a9a9a" stroke="#000" stroke-width="1.1" />
<line x1="576.25" y1="272.11" x2="576.25" y2="263.77" stroke="#333" stroke-width="0.9"/>
<line x1="573.25" y1="263.77" x2="579.25" y2="263.77" stroke="#333" stroke-width="0.9"/>
<rect x="571.30" y="272.61" width="9.90" height="47.89" fill="#000" stroke="#000" stroke-width="1.1" />
<line x1="587.10" y1="298.21" x2="587.10" y2="293.31" stroke="#333" stroke-width="0.9"/>
<line x1="584.10" y1="293.31" x2="590.10" y2="293.31" stroke="#333" stroke-width="0.9"/>
<rect x="582.20" y="298.71" width="9.80" height="21.79" fill="#9a9a9a" stroke="#000" stroke-width="1.1" />
<line x1="461.50" y1="247.50" x2="461.50" y2="321.10" stroke="#000" stroke-width="1.2"/>
<line x1="460.90" y1="320.50" x2="593.00" y2="320.50" stroke="#000" stroke-width="1.2"/>
<line x1="458.00" y1="320.50" x2="461.50" y2="320.50" stroke="#000" stroke-width="1"/>
<text x="457.50" y="323.92" font-size="9.5" font-weight="bold" text-anchor="end" fill="#000" >0</text>
<line x1="458.00" y1="302.38" x2="461.50" y2="302.38" stroke="#000" stroke-width="1"/>
<text x="457.50" y="305.80" font-size="9.5" font-weight="bold" text-anchor="end" fill="#000" >1</text>
<line x1="458.00" y1="284.25" x2="461.50" y2="284.25" stroke="#000" stroke-width="1"/>
<text x="457.50" y="287.67" font-size="9.5" font-weight="bold" text-anchor="end" fill="#000" >2</text>
<line x1="458.00" y1="266.12" x2="461.50" y2="266.12" stroke="#000" stroke-width="1"/>
<text x="457.50" y="269.55" font-size="9.5" font-weight="bold" text-anchor="end" fill="#000" >3</text>
<line x1="458.00" y1="248.00" x2="461.50" y2="248.00" stroke="#000" stroke-width="1"/>
<text x="457.50" y="251.42" font-size="9.5" font-weight="bold" text-anchor="end" fill="#000" >4</text>
<line x1="479.50" y1="320.50" x2="479.50" y2="323.50" stroke="#000" stroke-width="1"/>
<line x1="513.30" y1="320.50" x2="513.30" y2="323.50" stroke="#000" stroke-width="1"/>
<line x1="547.50" y1="320.50" x2="547.50" y2="323.50" stroke="#000" stroke-width="1"/>
<line x1="581.70" y1="320.50" x2="581.70" y2="323.50" stroke="#000" stroke-width="1"/>
<ellipse cx="576" cy="256.7" rx="1.8" ry="1.6" fill="#555" filter="url(#b5)"/>
<rect x="470.50" y="249.70" width="7.00" height="4.50" fill="#000" stroke="#000" stroke-width="1" />
<text x="482.00" y="254.20" font-size="9.5" font-weight="normal" text-anchor="start" textLength="15.50" lengthAdjust="spacingAndGlyphs" fill="#222" >ALP</text>
<rect x="470.50" y="259.20" width="7.00" height="5.00" fill="#9a9a9a" stroke="#000" stroke-width="1" />
<text x="482.00" y="264.70" font-size="9.5" font-weight="normal" text-anchor="start" textLength="21.30" lengthAdjust="spacingAndGlyphs" fill="#222" >Runx2</text>
<text x="0" y="0" font-size="8.5" font-weight="bold" text-anchor="middle" textLength="39.5" lengthAdjust="spacingAndGlyphs" transform="translate(449,282.5) rotate(-90)">fold change</text>
<text x="479.20" y="332.50" font-size="8.5" font-weight="bold" text-anchor="middle" textLength="15.00" lengthAdjust="spacingAndGlyphs" fill="#000" >Ctrl</text>
<text x="512.50" y="332.50" font-size="8.5" font-weight="bold" text-anchor="middle" textLength="18.60" lengthAdjust="spacingAndGlyphs" fill="#000" >Pam3</text>
<text x="547.50" y="332.50" font-size="8.5" font-weight="bold" text-anchor="middle" textLength="15.00" lengthAdjust="spacingAndGlyphs" fill="#000" >Ctrl</text>
<text x="580.70" y="332.50" font-size="8.5" font-weight="bold" text-anchor="middle" textLength="18.60" lengthAdjust="spacingAndGlyphs" fill="#000" >Pam3</text>
<text x="512.50" y="341.00" font-size="8" font-weight="bold" text-anchor="middle" textLength="37.40" lengthAdjust="spacingAndGlyphs" fill="#000" >0.03 μg/ml</text>
<text x="547.50" y="341.00" font-size="8" font-weight="bold" text-anchor="middle" textLength="12.50" lengthAdjust="spacingAndGlyphs" fill="#000" >CM</text>
<text x="581.30" y="341.00" font-size="8" font-weight="bold" text-anchor="middle" textLength="12.50" lengthAdjust="spacingAndGlyphs" fill="#000" >CM</text>
<text x="70.00" y="412.50" font-size="11" font-weight="bold" text-anchor="end" textLength="51.30" lengthAdjust="spacingAndGlyphs" fill="#000" >Collagen I</text>
<text x="70.00" y="452.30" font-size="11" font-weight="bold" text-anchor="end" textLength="38.30" lengthAdjust="spacingAndGlyphs" fill="#000" >MMP-2</text>
<text x="70.70" y="489.80" font-size="11" font-weight="bold" text-anchor="end" textLength="23.40" lengthAdjust="spacingAndGlyphs" fill="#000" >ALP</text>
<text x="70.70" y="528.00" font-size="11" font-weight="bold" text-anchor="end" textLength="42.40" lengthAdjust="spacingAndGlyphs" fill="#000" >GAPDH</text>
<rect x="78.5" y="392.5" width="115.0" height="34.0" fill="#f1f1f1" stroke="#5a5a5a" stroke-width="1.0"/>
<rect x="86.00" y="402.30" width="22.60" height="14.00" rx="4.67" fill="#000" fill-opacity="0.03" filter="url(#b20)"/>
<rect x="87.00" y="404.80" width="20.60" height="9.00" rx="3.00" fill="#000" fill-opacity="0.22" filter="url(#b25)"/>
<rect x="111.30" y="402.30" width="23.70" height="14.00" rx="4.67" fill="#000" fill-opacity="0.02" filter="url(#b20)"/>
<rect x="112.30" y="404.80" width="21.70" height="9.00" rx="3.00" fill="#000" fill-opacity="0.20" filter="url(#b25)"/>
<rect x="137.00" y="397.50" width="26.00" height="24.00" rx="8.00" fill="#000" fill-opacity="0.35" filter="url(#b30)"/>
<rect x="164.00" y="398.50" width="26.00" height="22.00" rx="7.33" fill="#000" fill-opacity="0.30" filter="url(#b30)"/>
<rect x="138.80" y="402.30" width="22.00" height="15.00" rx="5.00" fill="#000" fill-opacity="0.12" filter="url(#b20)"/>
<rect x="139.80" y="404.80" width="20.00" height="10.00" rx="3.33" fill="#000" fill-opacity="0.97" filter="url(#b20)"/>
<rect x="165.10" y="402.80" width="23.40" height="14.00" rx="4.67" fill="#000" fill-opacity="0.10" filter="url(#b20)"/>
<rect x="166.10" y="405.30" width="21.40" height="9.00" rx="3.00" fill="#000" fill-opacity="0.80" filter="url(#b20)"/>
<rect x="78.5" y="431.5" width="115.0" height="33.0" fill="#f9f9f9" stroke="#5a5a5a" stroke-width="1.0"/>
<rect x="88.00" y="444.65" width="21.00" height="9.50" rx="3.17" fill="#000" fill-opacity="0.04" filter="url(#b20)"/>
<rect x="89.00" y="447.15" width="19.00" height="4.50" rx="1.50" fill="#000" fill-opacity="0.30" filter="url(#b16)"/>
<rect x="114.40" y="444.65" width="21.00" height="9.50" rx="3.17" fill="#000" fill-opacity="0.04" filter="url(#b20)"/>
<rect x="115.40" y="447.15" width="19.00" height="4.50" rx="1.50" fill="#000" fill-opacity="0.30" filter="url(#b16)"/>
<rect x="140.70" y="436.50" width="21.70" height="17.00" rx="5.67" fill="#000" fill-opacity="0.01" filter="url(#b20)"/>
<rect x="141.70" y="439.00" width="19.70" height="12.00" rx="4.00" fill="#000" fill-opacity="0.12" filter="url(#b25)"/>
<rect x="167.00" y="437.50" width="23.50" height="15.00" rx="5.00" fill="#000" fill-opacity="0.01" filter="url(#b20)"/>
<rect x="168.00" y="440.00" width="21.50" height="10.00" rx="3.33" fill="#000" fill-opacity="0.08" filter="url(#b25)"/>
<rect x="140.70" y="444.35" width="21.70" height="10.50" rx="3.50" fill="#000" fill-opacity="0.11" filter="url(#b20)"/>
<rect x="141.70" y="446.85" width="19.70" height="5.50" rx="1.83" fill="#000" fill-opacity="0.95" filter="url(#b10)"/>
<rect x="167.00" y="444.15" width="23.50" height="10.50" rx="3.50" fill="#000" fill-opacity="0.11" filter="url(#b20)"/>
<rect x="168.00" y="446.65" width="21.50" height="5.50" rx="1.83" fill="#000" fill-opacity="0.95" filter="url(#b10)"/>
<rect x="78.5" y="469.5" width="115.0" height="34.0" fill="#f8f8f8" stroke="#5a5a5a" stroke-width="1.0"/>
<rect x="87.00" y="477.50" width="21.00" height="13.00" rx="4.33" fill="#000" fill-opacity="0.01" filter="url(#b20)"/>
<rect x="88.00" y="480.00" width="19.00" height="8.00" rx="2.67" fill="#000" fill-opacity="0.08" filter="url(#b25)"/>
<rect x="112.00" y="474.50" width="23.00" height="15.00" rx="5.00" fill="#000" fill-opacity="0.01" filter="url(#b20)"/>
<rect x="113.00" y="477.00" width="21.00" height="10.00" rx="3.33" fill="#000" fill-opacity="0.12" filter="url(#b25)"/>
<rect x="87.00" y="485.75" width="21.00" height="8.50" rx="2.83" fill="#000" fill-opacity="0.03" filter="url(#b20)"/>
<rect x="88.00" y="488.25" width="19.00" height="3.50" rx="1.17" fill="#000" fill-opacity="0.25" filter="url(#b12)"/>
<rect x="113.00" y="485.30" width="21.00" height="9.00" rx="3.00" fill="#000" fill-opacity="0.05" filter="url(#b20)"/>
<rect x="114.00" y="487.80" width="19.00" height="4.00" rx="1.33" fill="#000" fill-opacity="0.42" filter="url(#b12)"/>
<rect x="139.30" y="484.30" width="22.50" height="11.00" rx="3.67" fill="#000" fill-opacity="0.12" filter="url(#b20)"/>
<rect x="140.30" y="486.80" width="20.50" height="6.00" rx="2.00" fill="#000" fill-opacity="0.97" filter="url(#b10)"/>
<rect x="165.60" y="484.55" width="24.00" height="10.50" rx="3.50" fill="#000" fill-opacity="0.11" filter="url(#b20)"/>
<rect x="166.60" y="487.05" width="22.00" height="5.50" rx="1.83" fill="#000" fill-opacity="0.95" filter="url(#b10)"/>
<rect x="78.5" y="507.5" width="115.0" height="34.0" fill="#fafafa" stroke="#5a5a5a" stroke-width="1.0"/>
<rect x="84.20" y="520.90" width="23.40" height="11.00" rx="3.67" fill="#000" fill-opacity="0.12" filter="url(#b20)"/>
<rect x="85.20" y="523.40" width="21.40" height="6.00" rx="2.00" fill="#000" fill-opacity="0.97" filter="url(#b10)"/>
<rect x="112.30" y="521.40" width="22.50" height="10.00" rx="3.33" fill="#000" fill-opacity="0.12" filter="url(#b20)"/>
<rect x="113.30" y="523.90" width="20.50" height="5.00" rx="1.67" fill="#000" fill-opacity="0.97" filter="url(#b10)"/>
<rect x="139.30" y="520.90" width="22.50" height="11.00" rx="3.67" fill="#000" fill-opacity="0.12" filter="url(#b20)"/>
<rect x="140.30" y="523.40" width="20.50" height="6.00" rx="2.00" fill="#000" fill-opacity="0.97" filter="url(#b10)"/>
<rect x="167.00" y="520.65" width="23.50" height="11.50" rx="3.83" fill="#000" fill-opacity="0.12" filter="url(#b20)"/>
<rect x="168.00" y="523.15" width="21.50" height="6.50" rx="2.17" fill="#000" fill-opacity="0.97" filter="url(#b10)"/>
<text x="75.00" y="562.00" font-size="10" font-weight="bold" text-anchor="end" textLength="46.70" lengthAdjust="spacingAndGlyphs" fill="#000" >Pam3 CM</text>
<text x="93.30" y="562.00" font-size="11" font-weight="normal" text-anchor="middle" fill="#000" >-</text>
<text x="121.70" y="562.00" font-size="11" font-weight="normal" text-anchor="middle" fill="#000" >-</text>
<text x="150.00" y="562.00" font-size="11" font-weight="normal" text-anchor="middle" fill="#000" >+</text>
<text x="180.00" y="562.00" font-size="11" font-weight="normal" text-anchor="middle" fill="#000" >+</text>
<text x="75.00" y="588.50" font-size="10" font-weight="bold" text-anchor="end" textLength="31.70" lengthAdjust="spacingAndGlyphs" fill="#000" >DMSO</text>
<text x="93.30" y="588.50" font-size="11" font-weight="normal" text-anchor="middle" fill="#000" >-</text>
<text x="121.70" y="588.50" font-size="11" font-weight="normal" text-anchor="middle" fill="#000" >+</text>
<text x="150.00" y="588.50" font-size="11" font-weight="normal" text-anchor="middle" fill="#000" >+</text>
<text x="180.00" y="588.50" font-size="11" font-weight="normal" text-anchor="middle" fill="#000" >-</text>
<text x="75.00" y="613.50" font-size="10" font-weight="bold" text-anchor="end" textLength="57.70" lengthAdjust="spacingAndGlyphs" fill="#000" >CU CPT 22</text>
<text x="93.30" y="613.50" font-size="11" font-weight="normal" text-anchor="middle" fill="#000" >-</text>
<text x="121.70" y="613.50" font-size="11" font-weight="normal" text-anchor="middle" fill="#000" >-</text>
<text x="150.00" y="613.50" font-size="11" font-weight="normal" text-anchor="middle" fill="#000" >-</text>
<text x="180.00" y="613.50" font-size="11" font-weight="normal" text-anchor="middle" fill="#000" >+</text>
<rect x="312.25" y="513.50" width="13.00" height="29.00" fill="#000" stroke="#000" stroke-width="2" />
<rect x="327.25" y="513.50" width="11.75" height="29.00" fill="#7a7a7a" stroke="#000" stroke-width="2" />
<rect x="342.25" y="513.50" width="11.75" height="29.00" fill="#ececec" stroke="#000" stroke-width="2" />
<line x1="377.25" y1="505.90" x2="377.25" y2="497.50" stroke="#222" stroke-width="1.1"/>
<line x1="373.65" y1="497.50" x2="380.85" y2="497.50" stroke="#222" stroke-width="1.2"/>
<rect x="371.00" y="506.90" width="12.50" height="35.60" fill="#000" stroke="#000" stroke-width="2" />
<line x1="391.88" y1="516.10" x2="391.88" y2="510.10" stroke="#222" stroke-width="1.1"/>
<line x1="388.27" y1="510.10" x2="395.48" y2="510.10" stroke="#222" stroke-width="1.2"/>
<rect x="386.00" y="517.10" width="11.75" height="25.40" fill="#7a7a7a" stroke="#000" stroke-width="2" />
<line x1="406.88" y1="513.70" x2="406.88" y2="507.10" stroke="#222" stroke-width="1.1"/>
<line x1="403.27" y1="507.10" x2="410.48" y2="507.10" stroke="#222" stroke-width="1.2"/>
<rect x="401.00" y="514.70" width="11.75" height="27.80" fill="#ececec" stroke="#000" stroke-width="2" />
<line x1="436.25" y1="484.60" x2="436.25" y2="470.50" stroke="#222" stroke-width="1.1"/>
<line x1="432.65" y1="470.50" x2="439.85" y2="470.50" stroke="#222" stroke-width="1.2"/>
<rect x="429.75" y="485.60" width="13.00" height="56.90" fill="#000" stroke="#000" stroke-width="2" />
<line x1="450.62" y1="468.70" x2="450.62" y2="461.50" stroke="#222" stroke-width="1.1"/>
<line x1="447.02" y1="461.50" x2="454.23" y2="461.50" stroke="#222" stroke-width="1.2"/>
<rect x="444.75" y="469.70" width="11.75" height="72.80" fill="#7a7a7a" stroke="#000" stroke-width="2" />
<line x1="465.12" y1="468.10" x2="465.12" y2="454.90" stroke="#222" stroke-width="1.1"/>
<line x1="461.52" y1="454.90" x2="468.73" y2="454.90" stroke="#222" stroke-width="1.2"/>
<rect x="459.25" y="469.10" width="11.75" height="73.40" fill="#ececec" stroke="#000" stroke-width="2" />
<line x1="494.75" y1="477.10" x2="494.75" y2="466.00" stroke="#222" stroke-width="1.1"/>
<line x1="491.15" y1="466.00" x2="498.35" y2="466.00" stroke="#222" stroke-width="1.2"/>
<rect x="488.00" y="478.10" width="13.50" height="64.40" fill="#000" stroke="#000" stroke-width="2" />
<line x1="509.38" y1="472.90" x2="509.38" y2="460.90" stroke="#222" stroke-width="1.1"/>
<line x1="505.77" y1="460.90" x2="512.98" y2="460.90" stroke="#222" stroke-width="1.2"/>
<rect x="503.50" y="473.90" width="11.75" height="68.60" fill="#7a7a7a" stroke="#000" stroke-width="2" />
<line x1="523.45" y1="461.50" x2="523.45" y2="451.00" stroke="#222" stroke-width="1.1"/>
<line x1="519.85" y1="451.00" x2="527.05" y2="451.00" stroke="#222" stroke-width="1.2"/>
<rect x="517.30" y="462.50" width="12.30" height="80.00" fill="#ececec" stroke="#000" stroke-width="2" />
<line x1="436.25" y1="456.60" x2="436.25" y2="460.60" stroke="#333" stroke-width="1.1"/>
<line x1="434.52" y1="457.60" x2="437.98" y2="459.60" stroke="#333" stroke-width="1.1"/>
<line x1="437.98" y1="457.60" x2="434.52" y2="459.60" stroke="#333" stroke-width="1.1"/>
<line x1="450.60" y1="455.40" x2="450.60" y2="459.40" stroke="#333" stroke-width="1.1"/>
<line x1="448.87" y1="456.40" x2="452.33" y2="458.40" stroke="#333" stroke-width="1.1"/>
<line x1="452.33" y1="456.40" x2="448.87" y2="458.40" stroke="#333" stroke-width="1.1"/>
<line x1="465.10" y1="449.40" x2="465.10" y2="453.40" stroke="#333" stroke-width="1.1"/>
<line x1="463.37" y1="450.40" x2="466.83" y2="452.40" stroke="#333" stroke-width="1.1"/>
<line x1="466.83" y1="450.40" x2="463.37" y2="452.40" stroke="#333" stroke-width="1.1"/>
<line x1="494.75" y1="457.40" x2="494.75" y2="461.40" stroke="#333" stroke-width="1.1"/>
<line x1="493.02" y1="458.40" x2="496.48" y2="460.40" stroke="#333" stroke-width="1.1"/>
<line x1="496.48" y1="458.40" x2="493.02" y2="460.40" stroke="#333" stroke-width="1.1"/>
<line x1="509.30" y1="454.60" x2="509.30" y2="458.60" stroke="#333" stroke-width="1.1"/>
<line x1="507.57" y1="455.60" x2="511.03" y2="457.60" stroke="#333" stroke-width="1.1"/>
<line x1="511.03" y1="455.60" x2="507.57" y2="457.60" stroke="#333" stroke-width="1.1"/>
<line x1="523.70" y1="443.50" x2="523.70" y2="447.50" stroke="#333" stroke-width="1.1"/>
<line x1="521.97" y1="444.50" x2="525.43" y2="446.50" stroke="#333" stroke-width="1.1"/>
<line x1="525.43" y1="444.50" x2="521.97" y2="446.50" stroke="#333" stroke-width="1.1"/>
<line x1="303.00" y1="421.50" x2="303.00" y2="543.20" stroke="#000" stroke-width="1.4"/>
<line x1="303.00" y1="542.50" x2="538.75" y2="542.50" stroke="#000" stroke-width="1.4"/>
<line x1="297.50" y1="542.50" x2="303.00" y2="542.50" stroke="#000" stroke-width="1.2"/>
<text x="296.50" y="545.50" font-size="9" font-weight="normal" text-anchor="end" fill="#000" >0</text>
<line x1="297.50" y1="512.50" x2="303.00" y2="512.50" stroke="#000" stroke-width="1.2"/>
<text x="296.50" y="515.50" font-size="9" font-weight="normal" text-anchor="end" fill="#000" >1</text>
<line x1="297.50" y1="482.50" x2="303.00" y2="482.50" stroke="#000" stroke-width="1.2"/>
<text x="296.50" y="485.50" font-size="9" font-weight="normal" text-anchor="end" fill="#000" >2</text>
<line x1="297.50" y1="452.50" x2="303.00" y2="452.50" stroke="#000" stroke-width="1.2"/>
<text x="296.50" y="455.50" font-size="9" font-weight="normal" text-anchor="end" fill="#000" >3</text>
<line x1="297.50" y1="422.50" x2="303.00" y2="422.50" stroke="#000" stroke-width="1.2"/>
<text x="296.50" y="425.50" font-size="9" font-weight="normal" text-anchor="end" fill="#000" >4</text>
<line x1="332.50" y1="542.50" x2="332.50" y2="547.50" stroke="#000" stroke-width="1.2"/>
<line x1="392.00" y1="542.50" x2="392.00" y2="547.50" stroke="#000" stroke-width="1.2"/>
<line x1="450.50" y1="542.50" x2="450.50" y2="547.50" stroke="#000" stroke-width="1.2"/>
<line x1="508.75" y1="542.50" x2="508.75" y2="547.50" stroke="#000" stroke-width="1.2"/>
<text x="0" y="0" font-size="14" font-weight="normal" stroke="#000" stroke-width="0.3" text-anchor="middle" textLength="65" lengthAdjust="spacingAndGlyphs" transform="translate(286.5,482.5) rotate(-90)">fold change</text>
<rect x="323.70" y="395.45" width="11.60" height="4.45" fill="#000" stroke="#000" stroke-width="1.4" />
<text x="343.20" y="401.30" font-size="11" font-weight="bold" text-anchor="start" textLength="42.70" lengthAdjust="spacingAndGlyphs" fill="#000" >Collagen I</text>
<rect x="323.70" y="411.70" width="11.60" height="3.10" fill="#7a7a7a" stroke="#000" stroke-width="1.4" />
<text x="343.20" y="417.00" font-size="11" font-weight="bold" text-anchor="start" textLength="31.80" lengthAdjust="spacingAndGlyphs" fill="#000" >MMP-2</text>
<rect x="323.70" y="427.30" width="11.60" height="3.80" fill="#ececec" stroke="#000" stroke-width="1.4" />
<text x="343.20" y="432.70" font-size="11" font-weight="bold" text-anchor="start" textLength="18.80" lengthAdjust="spacingAndGlyphs" fill="#000" >ALP</text>
<text x="296.25" y="566.50" font-size="10" font-weight="bold" text-anchor="end" textLength="45.00" lengthAdjust="spacingAndGlyphs" fill="#000" >Pam3 CM</text>
<text x="332.20" y="567.80" font-size="11" font-weight="normal" text-anchor="middle" fill="#222" >-</text>
<text x="390.80" y="567.80" font-size="11" font-weight="normal" text-anchor="middle" fill="#222" >-</text>
<text x="450.40" y="567.80" font-size="11" font-weight="normal" text-anchor="middle" fill="#222" >+</text>
<text x="509.90" y="567.80" font-size="11" font-weight="normal" text-anchor="middle" fill="#222" >+</text>
<text x="296.25" y="588.50" font-size="10" font-weight="bold" text-anchor="end" textLength="30.00" lengthAdjust="spacingAndGlyphs" fill="#000" >DMSO</text>
<text x="332.20" y="589.80" font-size="11" font-weight="normal" text-anchor="middle" fill="#222" >-</text>
<text x="390.80" y="589.80" font-size="11" font-weight="normal" text-anchor="middle" fill="#222" >+</text>
<text x="450.40" y="589.80" font-size="11" font-weight="normal" text-anchor="middle" fill="#222" >+</text>
<text x="509.90" y="589.80" font-size="11" font-weight="normal" text-anchor="middle" fill="#222" >-</text>
<text x="296.25" y="610.00" font-size="10" font-weight="bold" text-anchor="end" textLength="56.25" lengthAdjust="spacingAndGlyphs" fill="#000" >CU CPT 22</text>
<text x="332.20" y="611.30" font-size="11" font-weight="normal" text-anchor="middle" fill="#222" >-</text>
<text x="390.80" y="611.30" font-size="11" font-weight="normal" text-anchor="middle" fill="#222" >-</text>
<text x="450.40" y="611.30" font-size="11" font-weight="normal" text-anchor="middle" fill="#222" >-</text>
<text x="509.90" y="611.30" font-size="11" font-weight="normal" text-anchor="middle" fill="#222" >+</text>
</svg></body></html>
